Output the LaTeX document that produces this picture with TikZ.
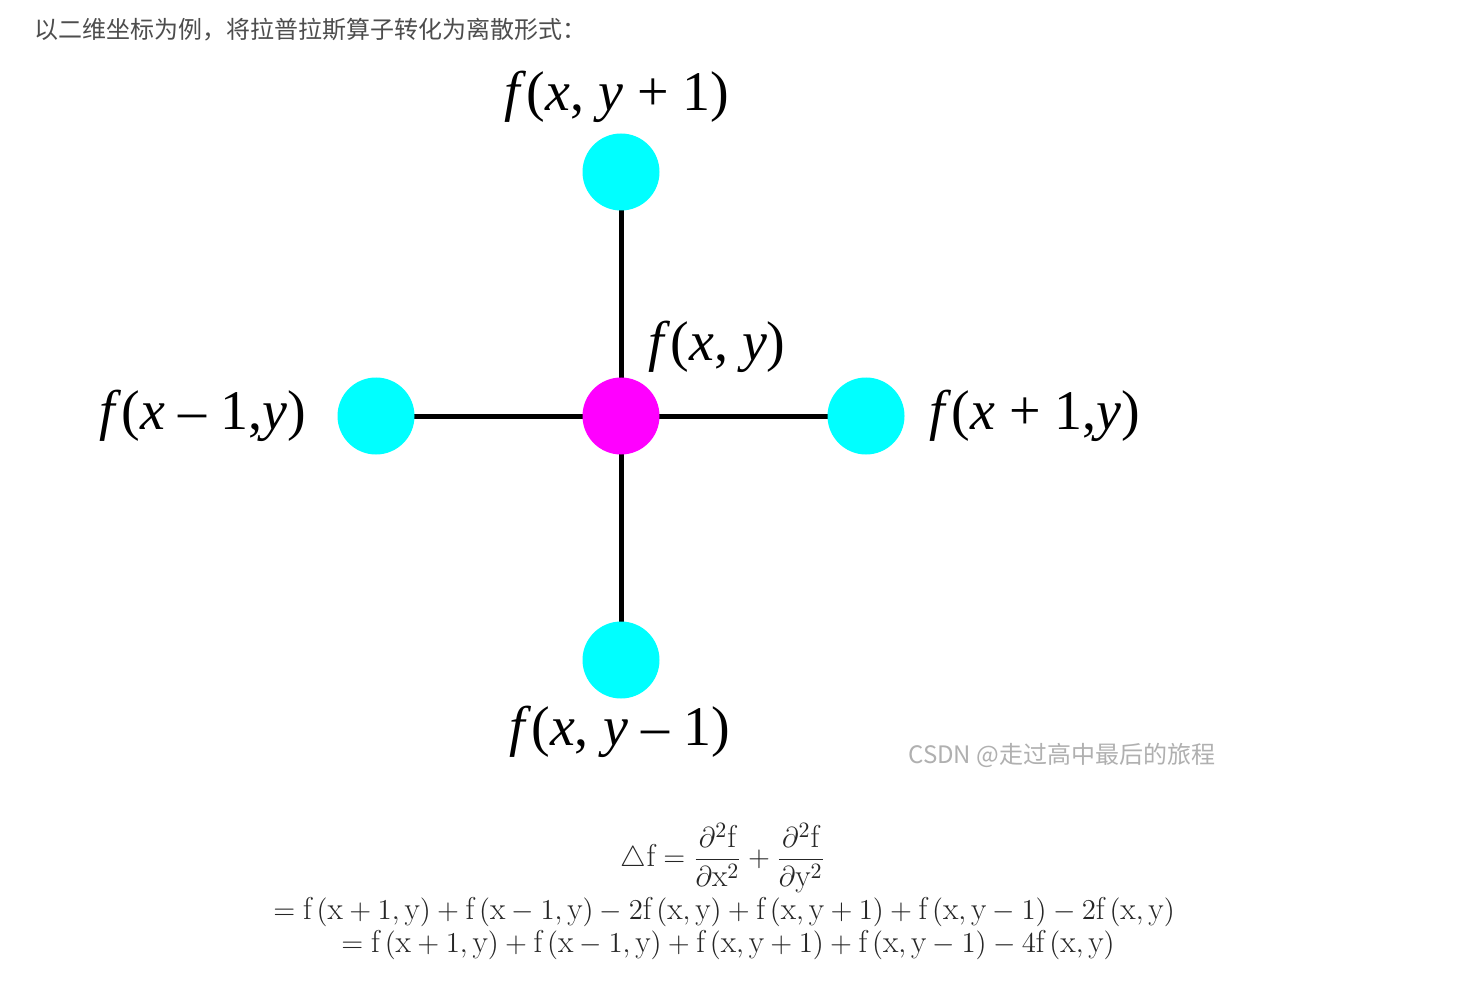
\documentclass[tikz,border=0pt]{standalone}
\usepackage{amsmath}
\usepackage{fontspec}
\newfontfamily\cjk{Noto Sans CJK SC}
\newfontfamily\labfont{Liberation Serif}
\usetikzlibrary{backgrounds}
\definecolor{txtgray}{HTML}{4D4D4D}
\definecolor{wmgray}{HTML}{B0B0B0}
\definecolor{dotcyan}{HTML}{00FFFF}
\definecolor{dotmag}{HTML}{FF00FF}
\newcommand{\ff}[1]{\mathrm{f}\left(#1\right)}
\tikzset{
  dot/.style={circle, minimum size=38.5pt, inner sep=0pt, draw=none},
  lbl/.style={font=\labfont\fontsize{28}{31}\selectfont, inner sep=0pt},
  link/.style={line width=2.5pt, black},
  eqline/.style={font=\fontsize{15.8}{18}\selectfont, text=black!85, inner sep=0pt}
}
\begin{document}
\begin{tikzpicture}[x=0.5pt, y=-0.5pt]
\useasboundingbox (0,0) rectangle (1471,989);
% title
\node[anchor=west, text=txtgray, font=\cjk\fontsize{12}{14}\selectfont, inner sep=0pt] (title) at (34,30) {以二维坐标为例，将拉普拉斯算子转化为离散形式：};
% dots
\node[dot, fill=dotcyan] (t) at (621,172) {};
\node[dot, fill=dotmag] (c) at (621,416) {};
\node[dot, fill=dotcyan] (l) at (376,416) {};
\node[dot, fill=dotcyan] (r) at (866,416) {};
\node[dot, fill=dotcyan] (b) at (621,660) {};
\begin{scope}[on background layer]
  \fill[white] (0,0) rectangle (1471,989);
  \draw[link] (t.center) -- (c.center);
  \draw[link] (b.center) -- (c.center);
  \draw[link] (l.center) -- (c.center);
  \draw[link] (r.center) -- (c.center);
\end{scope}
% labels
\node[lbl] (lt) at (617,97) {\textit{f}(\textit{x}, \textit{y} + 1)};
\node[lbl] (lc) at (717,347) {\textit{f}(\textit{x}, \textit{y})};
\node[lbl] (ll) at (203,416) {\textit{f}(\textit{x} – 1,\textit{y})};
\node[lbl] (lr) at (1035,416) {\textit{f}(\textit{x} + 1,\textit{y})};
\node[lbl] (lb) at (620,732) {\textit{f}(\textit{x}, \textit{y} – 1)};
% watermark
\node[anchor=west, text=wmgray, font=\cjk\fontsize{12}{14}\selectfont, inner sep=0pt] (wm) at (908,755) {CSDN @走过高中最后的旅程};
% formula
\node[eqline] (e1) at (723,858) {$\displaystyle \triangle\mathrm{f} = \frac{\partial^2\mathrm{f}}{\partial\mathrm{x}^2} + \frac{\partial^2\mathrm{f}}{\partial\mathrm{y}^2}$};
\node[eqline] (e2) at (724,912) {$= \ff{\mathrm{x}+1,\mathrm{y}} + \ff{\mathrm{x}-1,\mathrm{y}} - 2\ff{\mathrm{x},\mathrm{y}} + \ff{\mathrm{x},\mathrm{y}+1} + \ff{\mathrm{x},\mathrm{y}-1} - 2\ff{\mathrm{x},\mathrm{y}}$};
\node[eqline] (e3) at (728,945) {$= \ff{\mathrm{x}+1,\mathrm{y}} + \ff{\mathrm{x}-1,\mathrm{y}} + \ff{\mathrm{x},\mathrm{y}+1} + \ff{\mathrm{x},\mathrm{y}-1} - 4\ff{\mathrm{x},\mathrm{y}}$};
\end{tikzpicture}
\end{document}
